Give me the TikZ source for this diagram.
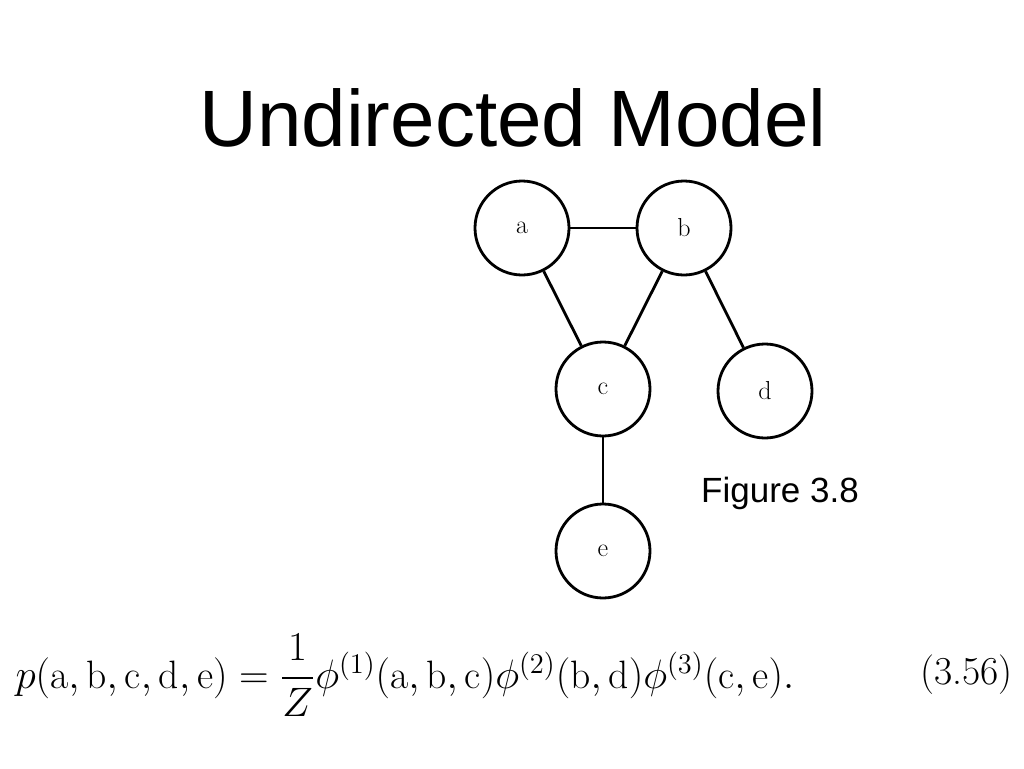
\documentclass[tikz,border=0pt]{standalone}
\usepackage{amsmath}
\usepackage{graphicx}
\usepackage{fontspec}
\newfontfamily\arialf{Liberation Sans}
\begin{document}
\begin{tikzpicture}[x=1pt,y=-1pt,
  v/.style={circle,draw,line width=2.8pt,minimum size=94pt,inner sep=0pt,font=\fontsize{26}{30}\selectfont},
  e/.style={line width=2.8pt}]
\useasboundingbox (0,0) rectangle (1024,768);
\node[font=\arialf\fontsize{80}{90}\selectfont] (title) at (513,118) {Undirected Model};
\node[v] (a) at (522,228) {a};
\node[v] (b) at (684,228) {b};
\node[v] (c) at (603,389) {c};
\node[v] (d) at (765,391) {d};
\node[v] (ee) at (603,551) {e};
\draw[e] (a)--(b); \draw[e] (a)--(c); \draw[e] (b)--(c); \draw[e] (b)--(d); \draw[e] (c)--(ee);
\node[font=\arialf\fontsize{35}{40}\selectfont] (fig) at (780,493) {Figure 3.8};
\node[anchor=west,font=\fontsize{20}{24}\selectfont] (eq) at (12,675) {\scalebox{1.98}{$p(\mathrm{a},\mathrm{b},\mathrm{c},\mathrm{d},\mathrm{e})=\dfrac{1}{Z}\phi^{(1)}(\mathrm{a},\mathrm{b},\mathrm{c})\phi^{(2)}(\mathrm{b},\mathrm{d})\phi^{(3)}(\mathrm{c},\mathrm{e}).$}};
\node[anchor=east,font=\fontsize{20}{24}\selectfont] (num) at (1016,675) {\scalebox{1.98}{(3.56)}};
\end{tikzpicture}
\end{document}
